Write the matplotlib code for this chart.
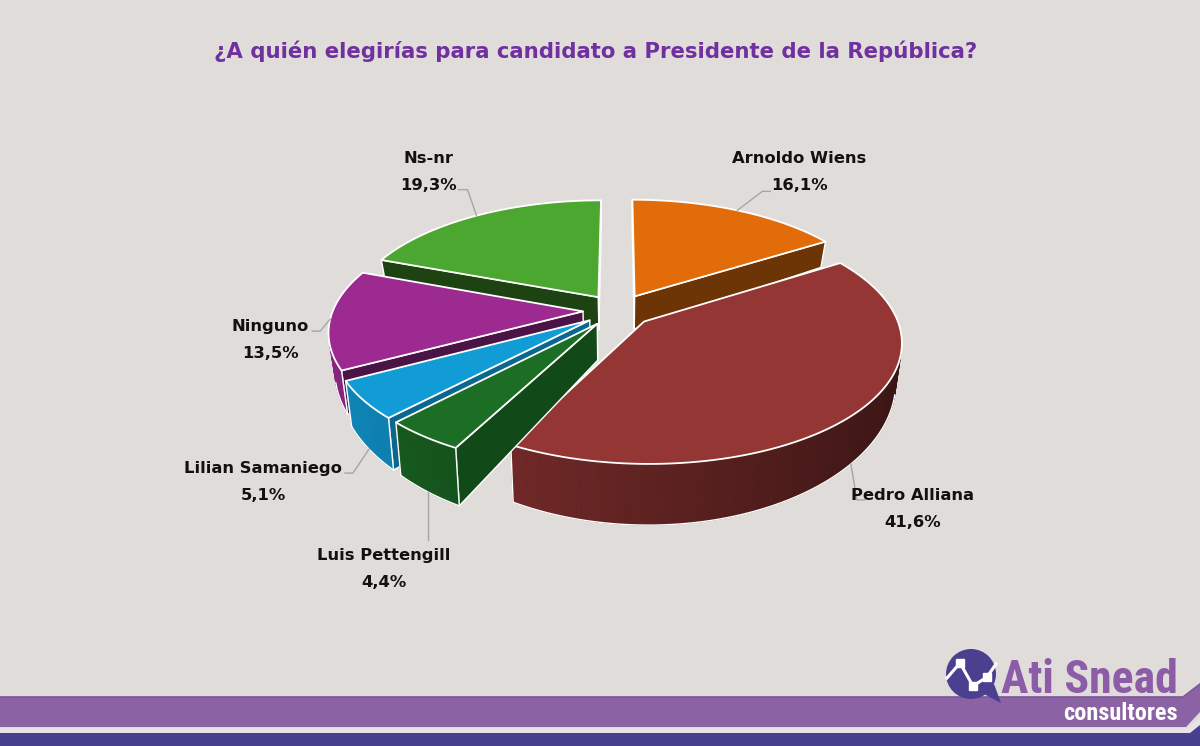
import numpy as np
import matplotlib
matplotlib.use("Agg")
import matplotlib.pyplot as plt
from matplotlib.patches import Polygon, Circle
from matplotlib import font_manager, colors as mcolors

# ---------------- data ----------------
categories = ["Arnoldo Wiens", "Pedro Alliana", "Luis Pettengill",
              "Lilian Samaniego", "Ninguno", "Ns-nr"]
values = [16.1, 41.6, 4.4, 5.1, 13.5, 19.3]
value_labels = ["16,1%", "41,6%", "4,4%", "5,1%", "13,5%", "19,3%"]
title_text = "¿A quién elegirías para candidato a Presidente de la República?"
logo_main = "Ati Snead"
logo_sub = "consultores"

# ---------------- style ----------------
slice_colors = ["#E36C0A", "#943634", "#1C6E25", "#119CD6", "#9C2A91", "#4BA72F"]
side_shade = [0.48, 0.45, 0.66, 0.66, 0.48, 0.40]
label_offsets = [(62, -47), (62, 36), (-44, 68), (-106, 24), (-60, 12), (-48, -53)]
leader_paths = [[(0, 0), (25, -19), (33, -19)],
                [(0, 0), (6, 36), (14, 36)],
                [(0, 0), (0, 48)],
                [(0, 0), (-16, 24), (-24, 24)],
                [(0, 0), (-10, 12), (-18, 12)],
                [(0, 0), (-9, -26), (-18, -26)]]
BG = "#E0DCDA"
W, H = 1200, 746
CX, CY = 618.0, 310.3
SX, SY = 250.0, 116.0
PERSP = 0.158
HZ = 34.6
BOTTOM_XS = 0.978
EXPLODE = 0.14
LABEL_FS = 11.8
LINE_GAP = 27

names = {f.name for f in font_manager.fontManager.ttflist}
narrow = "DejaVu Sans"
for cand in ["Liberation Sans Narrow", "Roboto Condensed", "Open Sans Condensed",
             "Noto Sans Condensed", "DejaVu Sans Condensed"]:
    if cand in names:
        narrow = cand
        break


def proj(pts, bottom=False):
    pts = np.atleast_2d(pts)
    x, y = pts[:, 0], pts[:, 1]
    kk = 1.0 / (1.0 + PERSP * y)
    if bottom:
        X = CX + SX * x * kk * BOTTOM_XS
        Y = CY - SY * y * kk + HZ * kk ** 3
    else:
        X = CX + SX * x * kk
        Y = CY - SY * y * kk
    return np.column_stack([X, Y])


def sarea(p):
    x, y = p[:, 0], p[:, 1]
    return 0.5 * np.sum(x * np.roll(y, -1) - np.roll(x, -1) * y)


def shade(c, f):
    rgb = np.array(mcolors.to_rgb(c))
    return tuple(np.clip(rgb * f, 0, 1))


fig = plt.figure(figsize=(W / 100, H / 100), dpi=100)
fig.patch.set_facecolor(BG)
ax = fig.add_axes([0, 0, 1, 1])
ax.set_xlim(0, W)
ax.set_ylim(H, 0)
ax.axis("off")
ax.set_facecolor(BG)

# ---------------- slices ----------------
total = float(sum(values))
cum = np.cumsum([0.0] + values)
info = []
for i in range(len(values)):
    s = cum[i] / total * 360.0
    e = cum[i + 1] / total * 360.0
    mid = np.radians((s + e) / 2)
    off = EXPLODE * np.array([np.sin(mid), np.cos(mid)])
    n = max(3, int(np.ceil(e - s)) + 1)
    th = np.radians(np.linspace(s, e, n))
    rim = np.column_stack([np.sin(th), np.cos(th)]) + off
    half = np.radians((e - s) / 2)
    cdist = 2 * np.sin(half) / (3 * half) + EXPLODE
    info.append(dict(i=i, mid=mid, off=off, th=th, rim=rim,
                     depth=cdist * np.cos(mid)))

z = 10
for d in sorted(info, key=lambda q: -q["depth"]):
    i = d["i"]
    col = slice_colors[i]
    Ta = proj(d["off"])[0]
    Ba = proj(d["off"], True)[0]
    Tr = proj(d["rim"])
    Br = proj(d["rim"], True)
    nseg = len(Tr) - 1
    # radial walls
    for PT, PB, QT, QB in [(Ta, Ba, Tr[0], Br[0]), (Tr[-1], Br[-1], Ta, Ba)]:
        quad = np.array([PT, QT, QB, PB])
        if sarea(quad) < 0:
            ax.add_patch(Polygon(quad, closed=True, fc=shade(col, side_shade[i]),
                                 ec="white", lw=1.0, joinstyle="round", zorder=z))
            z += 1
    # outer wall
    vis = []
    for j in range(nseg):
        quad = np.array([Tr[j], Tr[j + 1], Br[j + 1], Br[j]])
        if sarea(quad) < 0:
            thm = 0.5 * (d["th"][j] + d["th"][j + 1])
            c = shade(col, 0.635 - 0.25 * np.sin(thm))
            ax.add_patch(Polygon(quad, closed=True, fc=c, ec=c, lw=0.7, zorder=z))
            vis.append(j)
    z += 1
    if vis:
        runs, cur = [], [vis[0]]
        for j in vis[1:]:
            if j == cur[-1] + 1:
                cur.append(j)
            else:
                runs.append(cur)
                cur = [j]
        runs.append(cur)
        for run in runs:
            idx = list(range(run[0], run[-1] + 2))
            ax.plot(Br[idx, 0], Br[idx, 1], color="white", lw=1.0, zorder=z,
                    solid_capstyle="round")
            for jj in (idx[0], idx[-1]):
                if jj == 0 or jj == nseg:
                    ax.plot([Tr[jj, 0], Br[jj, 0]], [Tr[jj, 1], Br[jj, 1]],
                            color="white", lw=1.0, zorder=z)
        z += 1
    top = np.vstack([Ta, Tr])
    ax.add_patch(Polygon(top, closed=True, fc=col, ec="white", lw=1.3,
                         joinstyle="round", zorder=z))
    z += 1

# ---------------- labels ----------------
for d in info:
    i = d["i"]
    mid = d["mid"]
    rp = np.array([np.sin(mid), np.cos(mid)]) + d["off"]
    a = proj(rp, np.cos(mid) < -0.3)[0]
    pts = np.array(leader_paths[i], dtype=float) + a
    ax.plot(pts[:, 0], pts[:, 1], color="#A6A6A6", lw=1.0, zorder=200)
    lx = a[0] + label_offsets[i][0]
    ly = a[1] + label_offsets[i][1]
    ax.text(lx, ly, categories[i], ha="center", va="baseline", fontsize=LABEL_FS,
            fontweight="bold", color="#111111", zorder=201)
    ax.text(lx, ly + LINE_GAP, value_labels[i], ha="center", va="baseline",
            fontsize=LABEL_FS, fontweight="bold", color="#111111", zorder=201)

renderer = fig.canvas.get_renderer()


def fit_width(t, target):
    bb = t.get_window_extent(renderer=renderer)
    t.set_fontsize(t.get_fontsize() * target / bb.width)


tt = ax.text(595.5, 58, title_text, ha="center", va="baseline", fontsize=15,
             fontweight="bold", color="#7030A0", zorder=210)
fit_width(tt, 765)

# ---------------- footer & logo ----------------
ax.add_patch(Polygon([(0, 697), (1183, 697), (1200, 684), (1200, 712),
                      (1186, 727), (0, 727)], closed=True, fc="#8B62A3",
                     ec="none", zorder=300))
ax.plot([0, 1183, 1200], [697, 697, 684], color="#7D5596", lw=1.2, zorder=301)
ax.add_patch(Polygon([(0, 728), (1187, 728), (1200, 718), (1200, 733), (0, 733)],
                     closed=True, fc="#E8E3E8", ec="none", zorder=300))
ax.add_patch(Polygon([(0, 733), (1190, 733), (1200, 725), (1200, 746), (0, 746)],
                     closed=True, fc="#46408F", ec="none", zorder=300))

ax.add_patch(Circle((971, 674), 25, fc="#4B3F8F", ec="none", zorder=310))
ax.add_patch(Polygon([(982, 693), (1001, 703), (994, 684)], closed=True,
                     fc="#4B3F8F", ec="none", zorder=310))
zx = [947, 960, 973, 987, 996]
zy = [678, 663, 686, 677, 664]
ax.plot(zx, zy, color="white", lw=2.2, zorder=311)
ax.plot(zx[1:4], zy[1:4], "s", ms=6, mfc="white", mec="white", zorder=312)

t1 = ax.text(1001, 693, logo_main, ha="left", va="baseline", fontsize=30,
             fontweight="bold", color="#8C5CA8", family=narrow, zorder=320)
fit_width(t1, 177)
t2 = ax.text(1063, 720, logo_sub, ha="left", va="baseline", fontsize=14,
             fontweight="bold", color="white", family=narrow, zorder=320)
fit_width(t2, 115)

fig.savefig("out.png", dpi=100, facecolor=BG)
